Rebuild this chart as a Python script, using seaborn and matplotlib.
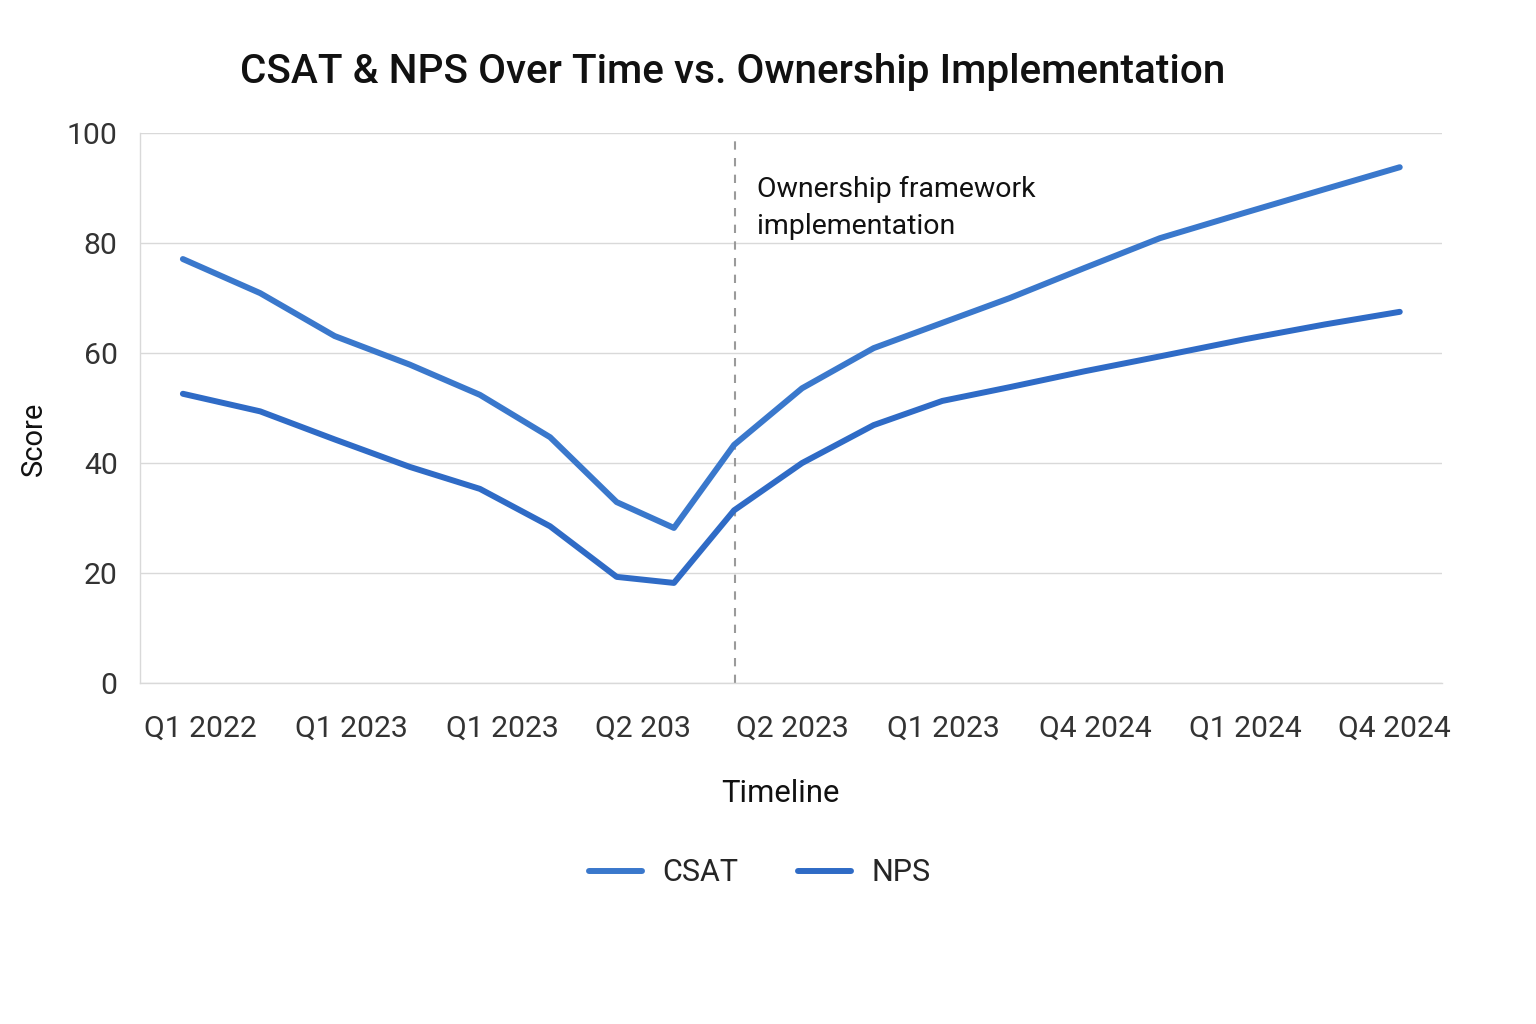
import matplotlib
matplotlib.use("Agg")
import matplotlib.pyplot as plt
import seaborn as sns
import pandas as pd

# ---- data ----
timeline_pos = [0.0, 1.08, 2.12, 3.17, 4.15, 5.13, 6.06, 6.86, 7.70, 8.65,
                9.65, 10.61, 11.55, 12.60, 13.65, 14.83, 15.95, 17.0]
csat = [77.1, 70.9, 63.1, 57.9, 52.4, 44.7, 32.9, 28.2, 43.3, 53.6,
        60.9, 65.5, 70.0, 75.5, 80.9, 85.5, 89.8, 93.8]
nps = [52.6, 49.4, 44.3, 39.3, 35.3, 28.5, 19.3, 18.2, 31.4, 40.0,
       46.9, 51.3, 53.8, 56.7, 59.4, 62.5, 65.2, 67.5]
tick_pos = [0.24, 2.36, 4.47, 6.43, 8.51, 10.63, 12.75, 14.85, 16.93]
tick_labels = ["Q1 2022", "Q1 2023", "Q1 2023", "Q2 203", "Q2 2023",
               "Q1 2023", "Q4 2024", "Q1 2024", "Q4 2024"]
y_ticks = [0, 20, 40, 60, 80, 100]
event_pos = 7.71
event_label = "Ownership framework\nimplementation"

df = pd.DataFrame({
    "t": timeline_pos * 2,
    "Score": csat + nps,
    "Series": ["CSAT"] * len(csat) + ["NPS"] * len(nps),
})

sns.set_theme(style="white")
plt.rcParams["font.family"] = ["Roboto", "DejaVu Sans"]

fig = plt.figure(figsize=(15.36, 10.24), dpi=100)
ax = fig.add_axes([0.0911, 0.333, 0.8477, 0.537])

sns.lineplot(data=df, x="t", y="Score", hue="Series",
             palette={"CSAT": "#3a78cc", "NPS": "#2f6bc6"},
             linewidth=4.3, ax=ax, legend=True, solid_capstyle="round")

ax.set_xlim(-0.60, 17.59)
ax.set_ylim(0, 100)
ax.set_yticks(y_ticks)
ax.set_xticks(tick_pos)
ax.set_xticklabels(tick_labels)
ax.tick_params(axis="x", length=0, pad=23, labelsize=21.7, labelcolor="#333333")
ax.tick_params(axis="y", length=0, pad=16, labelsize=21.7, labelcolor="#333333")

ax.yaxis.grid(True, color="#d9d9d9", linewidth=1.0)
ax.xaxis.grid(False)
for side in ["top", "right"]:
    ax.spines[side].set_visible(False)
ax.spines["left"].set_color("#d9d9d9")
ax.spines["bottom"].set_color("#d9d9d9")
ax.spines["left"].set_linewidth(1.0)
ax.spines["bottom"].set_linewidth(1.0)

ax.axvline(event_pos, color="#9a9a9a", linestyle=(0, (4, 4)), linewidth=1.5, zorder=1)
ax.text(event_pos + 0.31, 92.3, event_label, fontsize=20.5, color="#111111",
        va="top", ha="left", linespacing=1.5)

ax.set_xlabel("Timeline", fontsize=22.3, color="#111111")
ax.xaxis.set_label_coords(0.4916, -0.175)
ax.set_ylabel("Score", fontsize=21, color="#111111")
ax.yaxis.set_label_coords(-0.071, 0.4436)

fig.suptitle("CSAT & NPS Over Time vs. Ownership Implementation",
             x=0.477, y=0.948, fontsize=29.2, fontweight="medium", color="#111111")

handles, labels = ax.get_legend_handles_labels()
ax.legend(handles, labels, loc="center", bbox_to_anchor=(0.476, -0.345),
          ncol=2, frameon=False, fontsize=22, handlelength=1.75,
          columnspacing=1.95, handletextpad=0.65)

fig.savefig("out.png", dpi=100, facecolor="white")
